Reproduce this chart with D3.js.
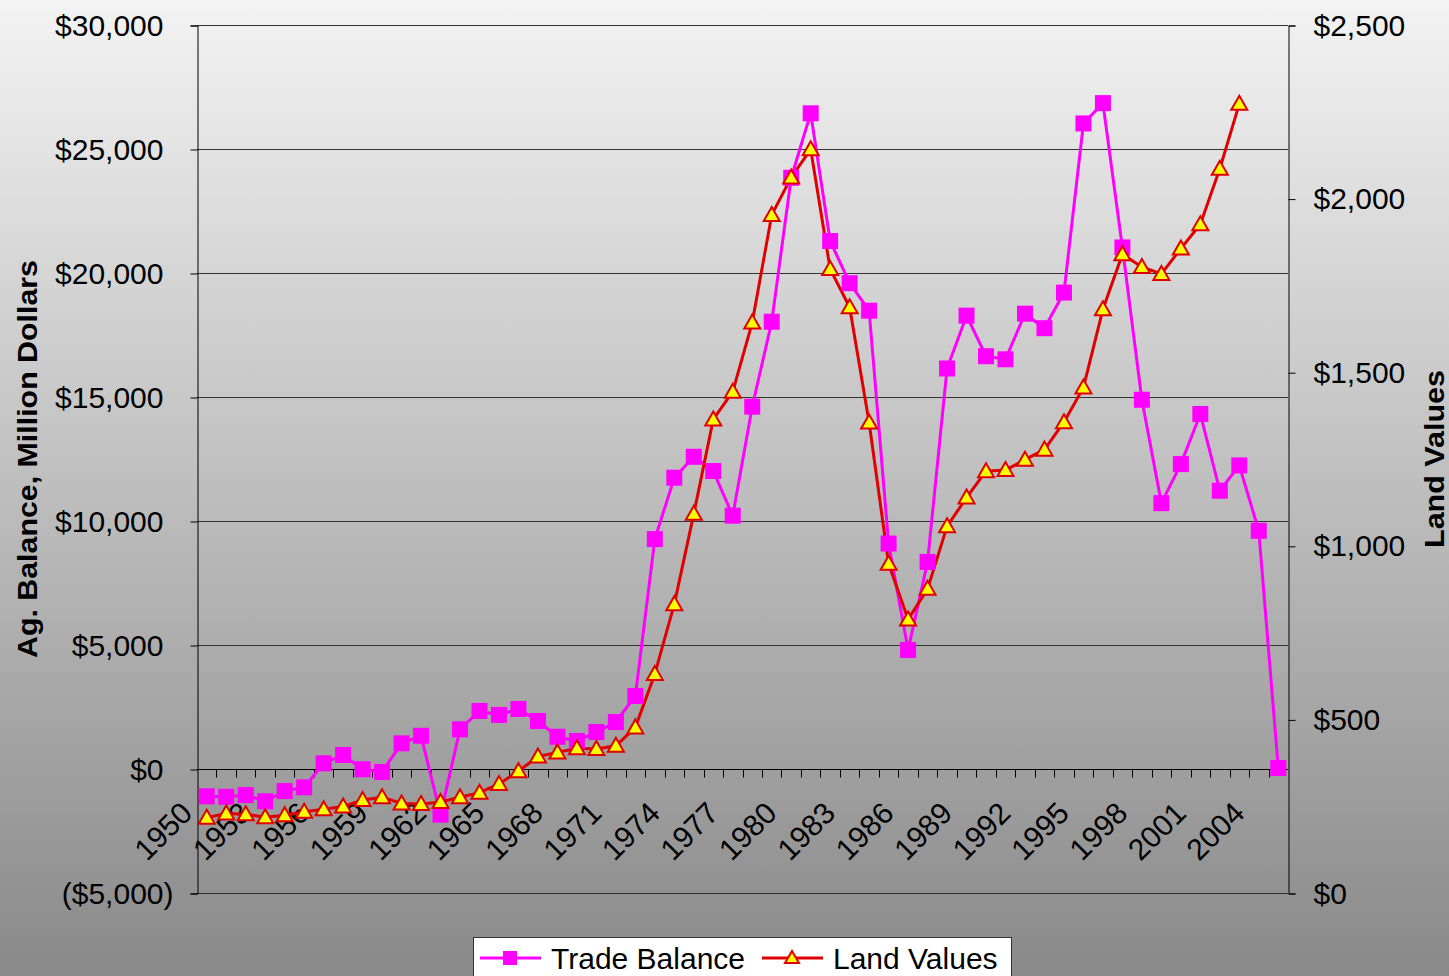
<!DOCTYPE html>
<html>
<head>
<meta charset="utf-8">
<script src="https://cdn.jsdelivr.net/npm/d3@7"></script>
<style>
  html, body { margin: 0; padding: 0; background: #8a8a8a; }
  svg { display: block; font-family: "Liberation Sans", Arial, sans-serif; }
</style>
</head>
<body>
<div id="chart"></div>
<script>
// categories (years)
var years = [1950,1951,1952,1953,1954,1955,1956,1957,1958,1959,
             1960,1961,1962,1963,1964,1965,1966,1967,1968,1969,
             1970,1971,1972,1973,1974,1975,1976,1977,1978,1979,
             1980,1981,1982,1983,1984,1985,1986,1987,1988,1989,
             1990,1991,1992,1993,1994,1995,1996,1997,1998,1999,
             2000,2001,2002,2003,2004,2005];

// Ag. trade balance, million dollars (left axis)
var tradeBalance = [-1100,-1120,-1050,-1300,-890,-740,230,565,-10,-120,
                    1035,1340,-1840,1600,2340,2180,2420,1935,1300,1130,
                    1490,1895,2945,9270,11745,12590,12015,10215,14610,18035,
                    23840,26440,21290,19590,18480,9090,4800,8350,16150,18280,
                    16645,16520,18360,17775,19210,26030,26850,21030,14890,10720,
                    12295,14315,11220,12240,9605,40];

// land values (right axis), no data after 2003
var landValues = [217,229,227,218,224,234,241,249,268,276,
                  258,256,262,276,289,314,351,393,405,417,
                  415,424,477,631,832,1092,1364,1444,1643,1953,
                  2061,2142,1797,1687,1355,948,788,876,1056,1139,
                  1215,1218,1248,1277,1356,1456,1681,1840,1803,1783,
                  1856,1926,2086,2273,null,null];

var leftTicks = [-5000,0,5000,10000,15000,20000,25000,30000];
var rightTicks = [0,500,1000,1500,2000,2500];
var seriesNames = ["Trade Balance", "Land Values"];

var W = 1449, H = 976;
var margin = {top: 25, right: 161, bottom: 83, left: 197};

var svg = d3.select("#chart").append("svg")
    .attr("width", W).attr("height", H);

var defs = svg.append("defs");
var grad = defs.append("linearGradient").attr("id", "bg")
    .attr("x1", 0).attr("y1", 0).attr("x2", 0).attr("y2", 1);
grad.append("stop").attr("offset", "0%").attr("stop-color", "#f3f3f3");
grad.append("stop").attr("offset", "100%").attr("stop-color", "#898989");

svg.append("rect").attr("width", W).attr("height", H).attr("fill", "url(#bg)");

var x = d3.scaleBand().domain(years).range([margin.left, W - margin.right]).padding(0);
var yL = d3.scaleLinear().domain([-5000, 30000]).range([H - margin.bottom, margin.top]);
var yR = d3.scaleLinear().domain([0, 2500]).range([H - margin.bottom, margin.top]);
var cx = function(yr) { return x(yr) + x.bandwidth() / 2; };

function money(v) {
  var s = "$" + d3.format(",")(Math.abs(v));
  return v < 0 ? "(" + s + ")" : s;
}

// gridlines
svg.append("g").selectAll("line")
  .data(leftTicks).enter().append("line")
    .attr("x1", margin.left).attr("x2", W - margin.right)
    .attr("y1", function(d) { return Math.round(yL(d)) + 0.5; })
    .attr("y2", function(d) { return Math.round(yL(d)) + 0.5; })
    .attr("stroke", "#333").attr("stroke-width", 1);

// left axis
var gL = svg.append("g")
    .attr("transform", "translate(" + (margin.left + 0.5) + ",0.5)")
    .call(d3.axisLeft(yL).tickValues(leftTicks).tickSize(7).tickPadding(27).tickFormat(money));
gL.selectAll("text").attr("font-size", 30).attr("fill", "#000")
    .attr("font-family", "'Liberation Sans', Arial, sans-serif")
    .attr("dx", function(d) { return d < 0 ? 10 : 0; });
gL.selectAll("line, path").attr("stroke", "#000");

// right axis
var gR = svg.append("g")
    .attr("transform", "translate(" + (W - margin.right + 0.5) + ",0.5)")
    .call(d3.axisRight(yR).tickValues(rightTicks).tickSize(7).tickPadding(18).tickFormat(money));
gR.selectAll("text").attr("font-size", 30).attr("fill", "#000")
    .attr("font-family", "'Liberation Sans', Arial, sans-serif");
gR.selectAll("line, path").attr("stroke", "#000");

// category axis crossing at zero
var y0 = Math.round(yL(0)) + 0.5;
svg.append("line")
    .attr("x1", margin.left).attr("x2", W - margin.right)
    .attr("y1", y0).attr("y2", y0).attr("stroke", "#000");
svg.append("g").selectAll("line")
  .data(years.slice(1)).enter().append("line")
    .attr("x1", function(d) { return Math.round(x(d)) + 0.5; })
    .attr("x2", function(d) { return Math.round(x(d)) + 0.5; })
    .attr("y1", y0).attr("y2", y0 + 8)
    .attr("stroke", "#000");

svg.append("g").selectAll("text")
  .data(years.filter(function(d, i) { return i % 3 === 0; }))
  .enter().append("text")
    .attr("transform", function(d) { return "translate(" + (cx(d) - 20) + "," + (y0 + 38) + ") rotate(-45)"; })
    .attr("text-anchor", "end")
    .attr("dy", "0.35em")
    .attr("font-size", 30)
    .text(function(d) { return d; });

// axis titles
svg.append("text")
    .attr("transform", "translate(37," + (margin.top + (H - margin.top - margin.bottom) / 2) + ") rotate(-90)")
    .attr("text-anchor", "middle")
    .attr("font-family", "'Liberation Sans Narrow', 'Liberation Sans', Arial, sans-serif")
    .attr("font-weight", "bold").attr("font-size", 28)
    .attr("textLength", 398).attr("lengthAdjust", "spacingAndGlyphs")
    .text("Ag. Balance, Million Dollars");

svg.append("text")
    .attr("transform", "translate(1444," + (margin.top + (H - margin.top - margin.bottom) / 2) + ") rotate(-90)")
    .attr("text-anchor", "middle")
    .attr("font-family", "'Liberation Sans Narrow', 'Liberation Sans', Arial, sans-serif")
    .attr("font-weight", "bold").attr("font-size", 28)
    .attr("textLength", 178).attr("lengthAdjust", "spacingAndGlyphs")
    .text("Land Values");

// trade balance series
var tbData = years.map(function(d, i) { return {year: d, v: tradeBalance[i]}; });
var lineTB = d3.line().x(function(d) { return cx(d.year); }).y(function(d) { return yL(d.v); });
svg.append("path").datum(tbData)
    .attr("d", lineTB).attr("fill", "none")
    .attr("stroke", "#ff00ff").attr("stroke-width", 3).attr("stroke-linejoin", "round");

// land values series
var lvData = years.map(function(d, i) { return {year: d, v: landValues[i]}; })
    .filter(function(d) { return d.v != null; });
var lineLV = d3.line().x(function(d) { return cx(d.year); }).y(function(d) { return yR(d.v); });
svg.append("path").datum(lvData)
    .attr("d", lineLV).attr("fill", "none")
    .attr("stroke", "#e00000").attr("stroke-width", 3).attr("stroke-linejoin", "round");

svg.append("g").selectAll("rect")
  .data(tbData).enter().append("rect")
    .attr("x", function(d) { return cx(d.year) - 8; })
    .attr("y", function(d) { return yL(d.v) - 8; })
    .attr("width", 16).attr("height", 16)
    .attr("fill", "#ff00ff");

var tri = "M0,-8L8,6L-8,6Z";
svg.append("g").selectAll("path")
  .data(lvData).enter().append("path")
    .attr("d", tri)
    .attr("transform", function(d) { return "translate(" + cx(d.year) + "," + yR(d.v) + ")"; })
    .attr("fill", "#ffff00").attr("stroke", "#e00000").attr("stroke-width", 2);

// legend
var lg = svg.append("g");
lg.append("rect").attr("x", 473.5).attr("y", 937.5).attr("width", 538).attr("height", 50)
    .attr("fill", "#fff").attr("stroke", "#333");
lg.append("line").attr("x1", 480).attr("x2", 541).attr("y1", 958).attr("y2", 958)
    .attr("stroke", "#ff00ff").attr("stroke-width", 3);
lg.append("rect").attr("x", 503).attr("y", 951).attr("width", 14).attr("height", 14).attr("fill", "#ff00ff");
lg.append("text").attr("x", 551).attr("y", 969).attr("font-size", 30).text(seriesNames[0]);
lg.append("line").attr("x1", 762).attr("x2", 823).attr("y1", 958).attr("y2", 958)
    .attr("stroke", "#e00000").attr("stroke-width", 3);
lg.append("path").attr("d", "M0,-7L7,5L-7,5Z").attr("transform", "translate(792,958)")
    .attr("fill", "#ffff00").attr("stroke", "#e00000").attr("stroke-width", 2);
lg.append("text").attr("x", 833).attr("y", 969).attr("font-size", 30).text(seriesNames[1]);
</script>
</body>
</html>
